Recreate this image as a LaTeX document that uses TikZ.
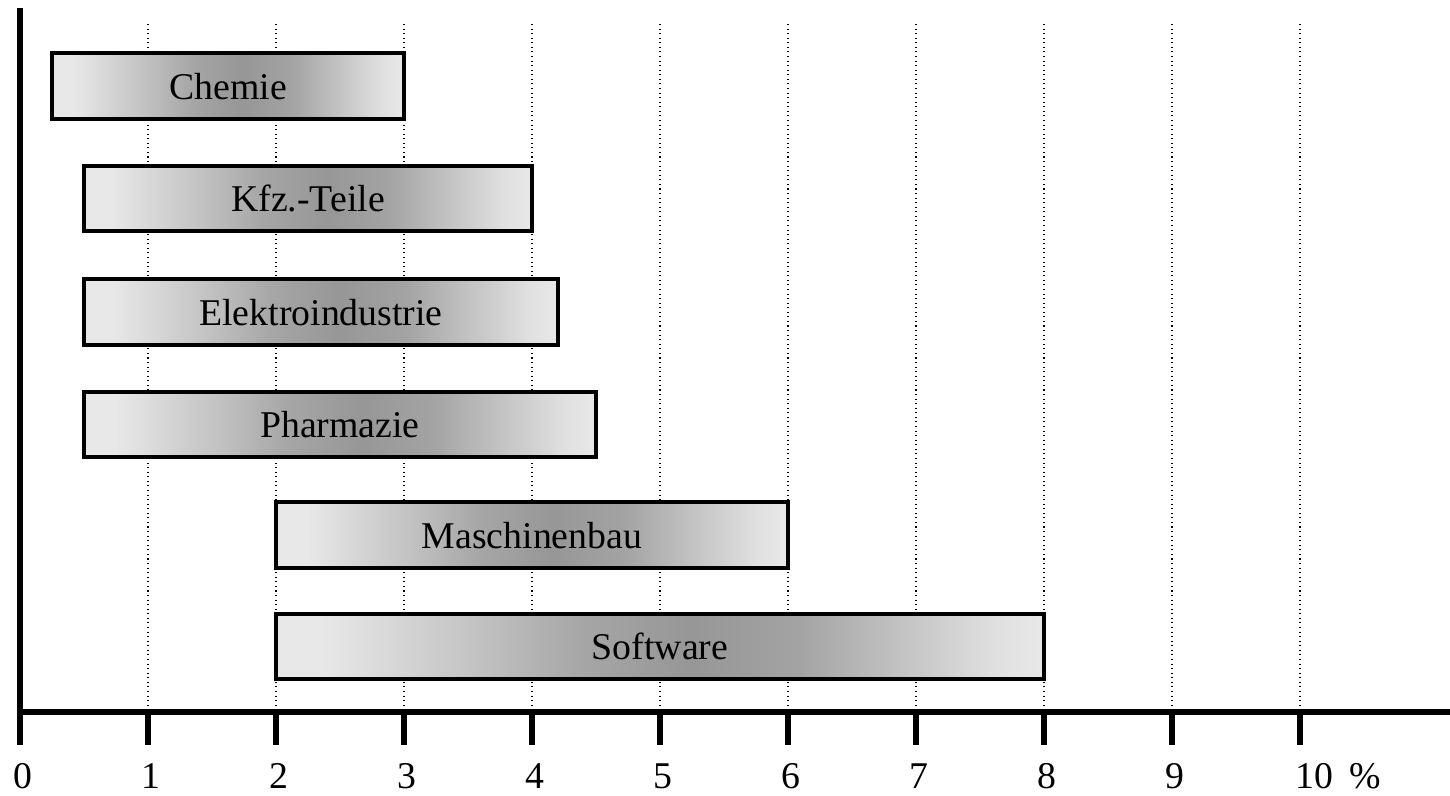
\documentclass[tikz,border=0pt]{standalone}
\usepackage{fontspec}
\setmainfont{Liberation Serif}

\definecolor{shA}{gray}{0.91}
\definecolor{shB}{gray}{0.77}
\definecolor{shC}{gray}{0.65}
\definecolor{shD}{gray}{0.59}
\definecolor{shE}{gray}{0.64}
\definecolor{shF}{gray}{0.88}

% light - dark - light grey ramp across each bar
\pgfdeclarehorizontalshading{barshade}{100bp}{%
  color(0bp)=(shA); color(25bp)=(shA); color(28bp)=(shA);
  color(37.5bp)=(shB); color(45bp)=(shC); color(52bp)=(shD);
  color(59bp)=(shE); color(66bp)=(shB); color(72bp)=(shF);
  color(75bp)=(shA); color(100bp)=(shA)}

\tikzset{
  bar/.style={draw=black, line width=1.8pt, shading=barshade,
    inner sep=0pt, text height=15pt, text depth=0pt},
  axisline/.style={line width=0.12cm, line cap=butt},
  gridline/.style={dotted, line width=0.6pt},
  ticklabel/.style={anchor=base, inner sep=0pt},
}

\begin{document}
\begin{tikzpicture}[x=0.02cm, y=-0.02cm, font=\fontsize{21.5}{25}\selectfont]
\useasboundingbox (0,0) rectangle (1450,795);

% dotted grid behind the bars
\foreach \i in {1,...,10}
  \draw[gridline] (20+128*\i,24) -- (20+128*\i,712);

% bars
\node[bar, minimum width=7.04cm, minimum height=1.32cm] (chemie) at (228,86) {Chemie};
\node[bar, minimum width=8.96cm, minimum height=1.30cm] (kfz) at (308,198.5) {Kfz.-Teile};
\node[bar, minimum width=9.48cm, minimum height=1.32cm] (elektro) at (321,312) {Elektroindustrie};
\node[bar, minimum width=10.24cm, minimum height=1.30cm] (pharma) at (340,424.5) {Pharmazie};
\node[bar, minimum width=10.24cm, minimum height=1.32cm] (masch) at (532,535) {Maschinenbau};
\node[bar, minimum width=15.36cm, minimum height=1.30cm] (soft) at (660,646.5) {Software};

% axes
\draw[axisline] (20,8) -- (20,745);
\draw[axisline] (17,712) -- (1450,712);
\foreach \i in {1,...,10}
  \draw[axisline] (20+128*\i,712) -- (20+128*\i,745);

% tick labels
\foreach \i in {0,...,9}
  \node[ticklabel] (lab\i) at (23+128*\i,788) {\i};
\node[ticklabel] (lab10) at (1314,788) {10};
\node[ticklabel] (pct) at (1365,788) {\%};
\end{tikzpicture}
\end{document}
